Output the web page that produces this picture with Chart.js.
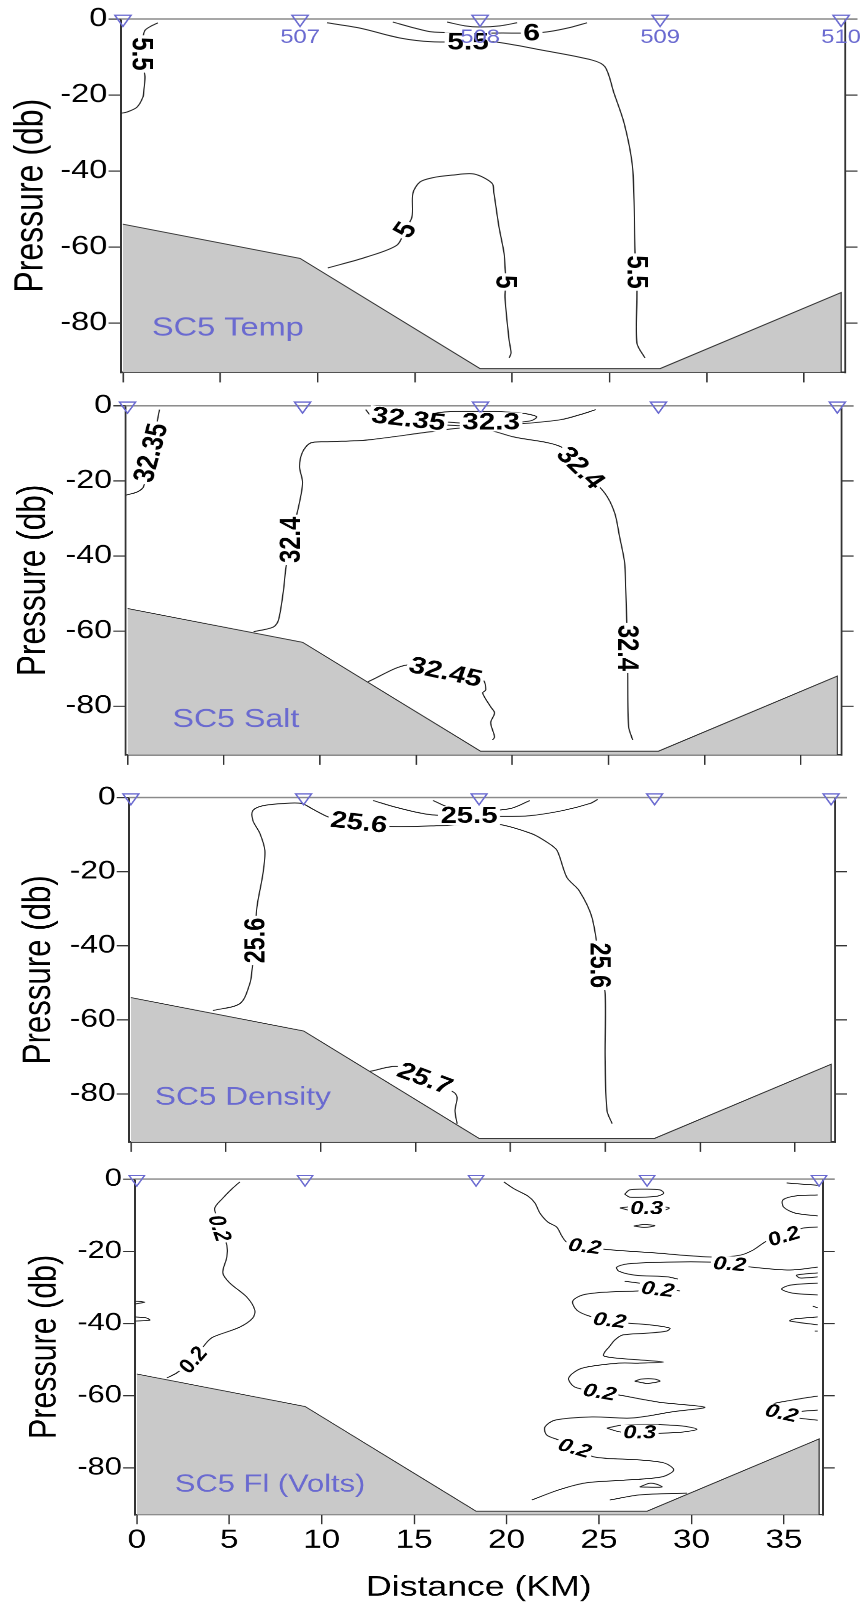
<!DOCTYPE html>
<html>
<head>
<meta charset="utf-8">
<title>SC5 section</title>
<script src="https://cdn.jsdelivr.net/npm/chart.js@4.4.1/dist/chart.umd.min.js"></script>
<style>
  html, body { margin: 0; padding: 0; background: #fff; }
  body { position: relative; width: 864px; height: 1606px; overflow: hidden; }
  .panel { position: absolute; width: 691px; transform-origin: 0 0; }
</style>
</head>
<body>
<div class="panel" id="panel1"><canvas id="tempChart"></canvas></div>
<div class="panel" id="panel2"><canvas id="saltChart"></canvas></div>
<div class="panel" id="panel3"><canvas id="densChart"></canvas></div>
<div class="panel" id="panel4"><canvas id="flChart"></canvas></div>
<script>
// stations along the section (km) and their names
const stationKm = [0, 9.1, 18.35, 27.6, 36.9];
const stationNames = ["", "507", "508", "509", "510"];
const xTicks = [0, 5, 10, 15, 20, 25, 30, 35];
const yTicks = [-80, -60, -40, -20, 0];
// sea floor, [km, pressure]
const bottomDepth = [[0, -54], [9.1, -63], [18.35, -92], [27.6, -92], [36.9, -72], [36.9, -93]];

// temperature contours
const temp55West = [[1.8, -1.0], [1.4, -2.0], [1.13, -3.0], [1.03, -5.0], [0.98, -9.2], [1.08, -13.5], [1.13, -15.3], [1.08, -18.5], [1.03, -20.5], [0.72, -23.2], [0.2, -24.5], [-0.1, -24.8]];
const temp55 = [[10.48, -1.0], [12.18, -2.4], [14.23, -5.0], [15.88, -6.0], [17.73, -6.0], [19.06, -6.0], [21.53, -8.2], [24.1, -10.8], [24.77, -12.6], [25.23, -19.5], [25.75, -27.4], [26.16, -37.9], [26.26, -47.6], [26.31, -61.6], [26.41, -66.6], [26.41, -73.2], [26.41, -85.3], [26.82, -89.2]];
const temp6 = [[13.87, -0.8], [15.0, -2.4], [15.88, -3.4], [17.83, -3.7], [19.5, -3.7], [21.0, -3.7], [21.8, -3.4], [23.0, -2.2], [23.84, -1.0]];
const temp65 = [[16.65, -0.8], [17.57, -1.8], [18.35, -2.1], [19.37, -1.8], [20.25, -1.0]];
const temp5 = [[10.53, -65.5], [12.54, -62.6], [14.08, -59.5], [14.49, -55.5], [14.85, -52.1], [14.9, -45.8], [15.26, -42.9], [15.88, -41.8], [16.9, -41.1], [18.04, -40.8], [18.96, -43.2], [19.06, -45.8], [19.32, -54.7], [19.58, -61.6], [19.63, -65.3], [19.68, -69.2], [19.63, -73.2], [19.84, -84.5], [19.94, -87.9], [19.84, -89.2]];
// [km, pressure, angle, text]
const tempLabels = [
  [0.98, -9.2, 90, "5.5"], [17.73, -6.0, 0, "5.5"], [21.0, -3.7, 0, "6"],
  [14.49, -55.5, -60, "5"], [19.68, -69.2, 90, "5"], [26.41, -66.6, 90, "5.5"]
];

// salinity contours
const salt3235West = [[1.66, -1.0], [1.56, -3.7], [1.4, -8.0], [1.2, -12.5], [1.0, -17.0], [0.83, -21.6], [0.52, -22.9], [0.0, -23.7], [-0.1, -23.8]];
const salt3235 = [[12.38, -1.0], [12.74, -2.9], [14.61, -3.5], [16.28, -5.0], [18.36, -5.4], [20.18, -4.9], [22.52, -3.7], [23.82, -1.9], [24.34, -1.0]];
const salt323 = [[15.34, -3.2], [16.02, -1.9], [17.32, -1.5], [18.88, -1.5], [20.44, -1.9], [21.27, -2.9], [20.96, -4.0], [19.66, -4.6], [18.36, -4.8], [16.8, -4.4], [15.76, -3.9], [15.34, -3.2]];
const salt324 = [[6.55, -60.2], [7.59, -58.9], [7.85, -57.0], [8.11, -49.0], [8.22, -43.7], [8.48, -35.7], [8.89, -26.9], [9.1, -20.5], [8.94, -16.2], [9.1, -12.3], [9.52, -9.9], [10.4, -9.6], [12.48, -9.1], [15.76, -6.9], [17.47, -5.9], [18.72, -6.4], [20.07, -8.3], [22.52, -10.9], [23.56, -16.5], [24.8, -23.2], [25.32, -28.5], [25.58, -34.9], [25.84, -41.8], [25.9, -49.0], [25.95, -57.0], [26.0, -64.5], [26.0, -71.1], [26.05, -85.5], [26.26, -89.0]];
const salt3245 = [[12.5, -73.5], [14.56, -69.0], [16.54, -70.9], [18.46, -73.0], [18.62, -75.7], [18.46, -76.5], [18.88, -80.2], [19.08, -81.8], [18.88, -84.4], [19.08, -88.2], [18.98, -89.0]];
const saltLabels = [
  [1.2, -12.5, -78, "32.35"], [14.61, -3.5, 8, "32.35"], [18.9, -4.3, 0, "32.3"],
  [8.48, -35.7, -90, "32.4"], [23.56, -16.5, 50, "32.4"], [26.0, -64.5, 90, "32.4"],
  [16.54, -70.9, 15, "32.45"]
];

// density contours
const dens256 = [[4.32, -57.5], [5.75, -55.6], [6.27, -50.2], [6.38, -46.7], [6.54, -38.6], [6.64, -29.7], [6.96, -20.5], [7.06, -14.3], [6.8, -9.7], [6.43, -6.2], [6.43, -3.5], [6.96, -2.2], [8.01, -1.6], [9.01, -1.6], [9.54, -3.0], [10.49, -5.4], [12.02, -6.7], [13.65, -7.8], [16.29, -7.6], [19.08, -7.0], [21.1, -9.7], [22.03, -12.4], [22.46, -14.3], [22.98, -21.6], [23.62, -25.1], [24.3, -32.4], [24.72, -45.3], [24.99, -52.9], [24.99, -70.2], [25.09, -84.5], [25.36, -88.0]];
const dens255 = [[12.76, -0.8], [14.02, -2.7], [15.76, -4.6], [17.82, -4.9], [19.45, -5.1], [21.03, -4.9], [22.77, -3.5], [24.2, -1.6], [24.6, -0.5]];
const dens254 = [[15.92, -0.8], [16.82, -2.7], [18.4, -3.5], [19.98, -3.0], [21.03, -0.8]];
const dens257 = [[12.6, -73.9], [14.07, -72.6], [15.5, -75.8], [17.03, -79.6], [17.19, -81.0], [17.08, -84.5], [17.19, -88.0]];
const densLabels = [
  [6.54, -38.6, -90, "25.6"], [12.02, -6.7, 8, "25.6"], [17.82, -4.9, 0, "25.5"],
  [24.72, -45.3, 90, "25.6"], [15.5, -75.8, 25, "25.7"]
];

// fluorescence contours
const flWest = [[5.57, -0.8], [5.19, -2.5], [4.65, -5.3], [4.22, -8.0], [4.35, -11.0], [4.49, -13.6], [4.7, -16.0], [4.87, -18.3], [4.87, -21.6], [4.65, -26.0], [5.03, -28.8], [5.95, -32.7], [6.38, -36.3], [6.27, -38.5], [5.57, -41.0], [4.11, -43.8], [3.79, -45.2], [3.03, -50.1], [2.16, -53.7], [1.62, -55.1]];
const flEdgeA = [[-0.1, -33.8], [0.43, -34.1], [-0.1, -34.6]];
const flEdgeB = [[-0.1, -38.2], [0.54, -38.5], [0.7, -39.1], [-0.1, -39.3]];
const flMain = [[19.85, -0.8], [20.44, -2.8], [21.15, -4.7], [21.53, -6.6], [21.8, -9.4], [22.23, -11.9], [22.71, -13.3], [22.99, -15.8], [23.26, -17.5], [24.23, -18.6], [25.2, -19.4], [28.12, -20.5], [31.15, -21.6], [32.61, -21.1], [33.32, -19.7], [34.07, -17.2], [34.99, -15.8], [36.02, -13.6], [36.83, -13.3]];
const flTongue = [[36.83, -24.4], [35.32, -25.2], [33.26, -24.4], [32.07, -23.5], [31.1, -23.0], [28.66, -23.0], [26.55, -23.5], [25.96, -24.4], [26.07, -25.5], [26.93, -26.6], [28.72, -27.1], [29.26, -27.7]];
const flShort = [[26.39, -28.3], [27.47, -29.1], [28.18, -30.5], [28.93, -30.7], [29.37, -31.0]];
const flSnake = [[27.2, -31.0], [25.42, -31.3], [24.12, -32.1], [23.58, -33.8], [23.8, -36.3], [24.5, -38.0], [25.58, -39.1], [26.55, -39.9], [27.74, -40.4], [28.83, -41.3], [28.66, -42.1], [27.58, -42.7], [26.28, -43.2], [25.85, -44.6], [25.58, -46.3], [25.31, -47.9], [25.26, -49.0], [25.96, -49.6], [27.2, -50.1], [28.5, -50.7], [27.2, -51.0], [26.07, -51.0], [24.07, -52.4], [23.36, -55.1], [23.69, -57.6], [25.04, -59.0], [26.07, -59.8], [28.23, -61.8], [30.72, -63.2], [28.93, -64.5], [26.77, -66.2], [24.61, -65.9], [22.61, -66.8], [22.07, -68.7], [22.17, -70.9], [22.82, -72.3], [23.69, -74.5], [24.77, -77.0], [27.15, -77.8], [28.56, -78.7], [29.04, -80.6], [28.4, -82.5], [26.39, -83.4], [24.23, -84.2], [22.82, -86.1], [21.36, -88.9]];
const flLoop03 = [[25.42, -69.0], [26.2, -68.2], [27.8, -68.0], [29.5, -68.4], [30.29, -69.3], [29.5, -70.1], [27.8, -70.4], [26.2, -70.1], [25.42, -69.0]];
const flBlipA = [[26.93, -56.0], [27.3, -55.4], [28.0, -55.4], [28.29, -56.0], [27.6, -56.6], [26.93, -56.0]];
const flBlipB = [[27.2, -85.3], [27.7, -84.3], [28.1, -84.5], [28.4, -85.3], [27.2, -85.3]];
const flFloor = [[25.58, -88.9], [27.2, -87.5], [29.75, -87.0]];
const flTop03a = [[26.39, -4.2], [26.66, -3.0], [27.47, -2.8], [28.29, -3.0], [28.5, -3.9], [28.18, -4.7], [27.47, -5.0], [26.66, -5.0], [26.39, -4.2]];
const flTop03b = [[26.12, -8.0], [27.0, -7.5], [28.0, -7.5], [28.8, -8.0], [28.3, -8.9], [27.0, -9.0], [26.12, -8.0]];
const flTop03c = [[26.88, -13.0], [27.42, -12.6], [28.02, -12.9], [27.47, -13.4], [26.88, -13.0]];
const flEast1 = [[35.15, -1.1], [36.83, -1.7]];
const flEast2 = [[36.83, -4.4], [35.59, -4.7], [34.94, -5.8], [34.99, -7.8], [35.59, -9.4], [36.83, -10.2]];
const flEast3 = [[36.83, -26.0], [35.69, -26.6], [35.86, -27.4], [36.83, -27.1]];
const flEast4 = [[36.83, -28.8], [35.32, -29.4], [34.88, -30.5], [35.48, -31.6], [36.83, -32.1]];
const flEast5 = [[36.56, -35.2], [36.83, -35.7]];
const flEast6 = [[36.83, -38.2], [35.48, -38.8], [35.32, -39.3], [36.83, -40.4]];
const flEast7 = [[36.67, -42.1], [36.83, -42.1]];
const flEast8 = [[36.83, -60.1], [35.48, -61.2], [34.13, -62.6], [34.0, -63.8], [34.88, -64.8], [36.02, -64.3], [36.83, -64.0]];
const flEast9 = [[35.75, -66.2], [36.83, -66.8]];
const flLabels = [
  [4.49, -13.6, 75, "0.2"], [3.03, -50.1, -55, "0.2"], [24.23, -18.6, 8, "0.2"],
  [32.07, -23.5, 5, "0.2"], [34.99, -15.8, -20, "0.2"], [28.18, -30.5, 8, "0.2"],
  [25.58, -39.1, 8, "0.2"], [25.04, -59.0, 12, "0.2"], [23.69, -74.5, 20, "0.2"],
  [34.88, -64.8, 15, "0.2"], [27.58, -8.0, 0, "0.3"], [27.2, -70.1, 0, "0.3"]
];

const FONT = '"Liberation Sans", Arial, Helvetica, sans-serif';
const BLUE = "#6a6ad0";
Chart.defaults.font.family = FONT;
Chart.defaults.color = "#000";

// plot box inside every canvas (the panels are then stretched with css)
const BOX = { left: 96.8, right: 676, top: 19, bottom: 372.4, width: 691 };

function panelChart(p) {
  const H = p.xLabels ? 470 : 390;
  const wrap = document.getElementById(p.wrap);
  wrap.style.left = p.left + "px";
  wrap.style.top = p.top + "px";
  wrap.style.height = H + "px";
  wrap.style.transform = `scale(${p.sx}, ${p.sy})`;

  const datasets = [{
    data: bottomDepth,
    fill: "start",
    backgroundColor: "#c9c9c9",
    borderColor: "#333",
    borderWidth: 1,
    pointRadius: 0,
    tension: 0,
    order: 5,
  }];
  p.lines.forEach((line) => {
    datasets.push({
      data: line,
      borderColor: "#222",
      borderWidth: 1,
      pointRadius: 0,
      tension: 0.3,
      fill: false,
      order: 2,
    });
  });
  // station markers
  datasets.push({
    data: stationKm.map((k) => [k, 0]),
    showLine: false,
    pointStyle: "triangle",
    pointRotation: 180,
    pointRadius: 7.5,
    pointBorderColor: BLUE,
    pointBackgroundColor: "rgba(255,255,255,0)",
    pointBorderWidth: 1.3,
    clip: false,
    order: 0,
  });

  const overlay = {
    id: "overlay",
    beforeDatasetsDraw(chart) {
      const { ctx, chartArea } = chart;
      ctx.save();
      ctx.strokeStyle = "#8a8a8a";
      ctx.lineWidth = 1.5;
      ctx.beginPath();
      ctx.moveTo(chartArea.left, chartArea.top);
      ctx.lineTo(chartArea.right + 10, chartArea.top);
      ctx.stroke();
      ctx.restore();
    },
    afterDatasetsDraw(chart) {
      const { ctx } = chart;
      const x = chart.scales.x;
      const y = chart.scales.y;
      ctx.save();
      ctx.font = p.labelFont;
      ctx.textAlign = "center";
      ctx.textBaseline = "middle";
      // contour labels
      p.labels.forEach(([km, db, ang, txt]) => {
        const w = ctx.measureText(txt).width;
        ctx.save();
        ctx.translate(x.getPixelForValue(km), y.getPixelForValue(db));
        ctx.rotate((ang * Math.PI) / 180);
        ctx.fillStyle = "#fff";
        ctx.fillRect(-w / 2 - 2, -p.labelSize * 0.4, w + 4, p.labelSize * 0.8);
        ctx.fillStyle = "#000";
        ctx.fillText(txt, 0, 1);
        ctx.restore();
      });
      // panel name
      ctx.fillStyle = BLUE;
      ctx.font = `26px ${FONT}`;
      ctx.textAlign = "left";
      ctx.fillText(p.name, x.getPixelForValue(p.nameAt[0]), y.getPixelForValue(p.nameAt[1]));
      // station names
      if (p.stationNames) {
        ctx.font = `19px ${FONT}`;
        ctx.textAlign = "center";
        stationKm.forEach((k, i) => {
          ctx.fillText(stationNames[i], x.getPixelForValue(k), y.getPixelForValue(0) + 19);
        });
      }
      ctx.restore();
    },
  };

  return new Chart(document.getElementById(p.canvas), {
    type: "line",
    data: { datasets },
    plugins: [overlay],
    options: {
      responsive: true,
      maintainAspectRatio: false,
      devicePixelRatio: 2,
      animation: false,
      events: [],
      layout: { padding: { top: BOX.top, left: 0, right: 0, bottom: 0 } },
      plugins: { legend: { display: false }, tooltip: { enabled: false } },
      scales: {
        x: {
          type: "linear",
          position: "bottom",
          min: -0.1,
          max: 37.1,
          afterBuildTicks: (s) => { s.ticks = xTicks.map((v) => ({ value: v })); },
          afterFit: (s) => { s.height = H - BOX.bottom; },
          grid: { drawOnChartArea: false, tickLength: 10, color: "#333", lineWidth: 1.2 },
          border: { color: "#333", width: 1.5 },
          ticks: { display: p.xLabels, padding: 0, maxRotation: 0, autoSkip: false, font: { size: 28 } },
          title: { display: p.xLabels, text: "Distance (KM)", font: { size: 30 }, padding: { top: 0, bottom: 3 } },
        },
        y: {
          type: "linear",
          position: "left",
          min: -93,
          max: 0,
          afterBuildTicks: (s) => { s.ticks = yTicks.map((v) => ({ value: v })); },
          afterFit: (s) => { s.width = BOX.left; },
          grid: { drawOnChartArea: false, tickLength: 10, color: "#333", lineWidth: 1.2 },
          border: { color: "#333", width: 1.5 },
          ticks: { padding: 1, font: { size: 26 }, callback: (v) => String(v) },
          title: { display: true, text: "Pressure (db)", font: { size: 32 }, padding: { top: p.titlePad, bottom: 0 } },
        },
        yR: {
          type: "linear",
          position: "right",
          min: -93,
          max: 0,
          afterBuildTicks: (s) => { s.ticks = yTicks.map((v) => ({ value: v })); },
          afterFit: (s) => { s.width = BOX.width - BOX.right; },
          grid: { drawOnChartArea: false, tickLength: 10, color: "#333", lineWidth: 1.2 },
          border: { color: "#333", width: 1.5 },
          ticks: { display: false },
        },
      },
    },
  });
}

panelChart({
  wrap: "panel1", canvas: "tempChart", left: 0, top: 0, sx: 1.25, sy: 1, titlePad: 6,
  lines: [temp55West, temp55, temp6, temp65, temp5], labels: tempLabels,
  labelFont: `bold 24px ${FONT}`, labelSize: 24,
  name: "SC5 Temp", nameAt: [1.49, -81.4], stationNames: true, xLabels: false,
});
panelChart({
  wrap: "panel2", canvas: "saltChart", left: 5.5, top: 387.2, sx: 1.2355, sy: 0.988, titlePad: 3.5,
  lines: [salt3235West, salt3235, salt323, salt324, salt3245], labels: saltLabels,
  labelFont: `bold 24px ${FONT}`, labelSize: 24,
  name: "SC5 Salt", nameAt: [2.34, -83.6], stationNames: false, xLabels: false,
});
panelChart({
  wrap: "panel3", canvas: "densChart", left: 11.1, top: 778.5, sx: 1.21875, sy: 0.975, titlePad: 4,
  lines: [dens256, dens255, dens254, dens257], labels: densLabels,
  labelFont: `bold 24px ${FONT}`, labelSize: 24,
  name: "SC5 Density", nameAt: [1.26, -81.0], stationNames: false, xLabels: false,
});
panelChart({
  wrap: "panel4", canvas: "flChart", left: 20.2, top: 1161, sx: 1.1875, sy: 0.95, titlePad: 2,
  lines: [flWest, flEdgeA, flEdgeB, flMain, flTongue, flShort, flSnake, flLoop03, flBlipA, flBlipB, flFloor,
    flTop03a, flTop03b, flTop03c, flEast1, flEast2, flEast3, flEast4, flEast5, flEast6, flEast7, flEast8, flEast9],
  labels: flLabels,
  labelFont: `italic bold 20px ${FONT}`, labelSize: 20,
  name: "SC5 Fl (Volts)", nameAt: [2.06, -84.7], stationNames: false, xLabels: true,
});
</script>
</body>
</html>
